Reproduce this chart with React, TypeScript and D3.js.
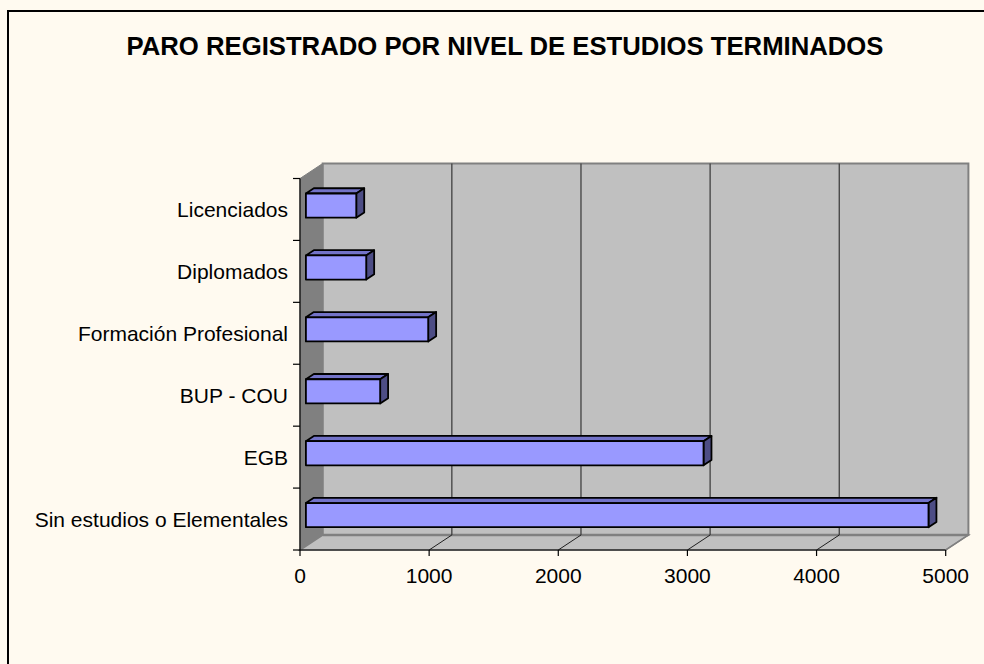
import * as d3 from 'd3'

const categories = [
  'Licenciados',
  'Diplomados',
  'Formación Profesional',
  'BUP - COU',
  'EGB',
  'Sin estudios o Elementales',
]
const values = [390, 467, 947, 575, 3079, 4821]
const xTicks = [0, 1000, 2000, 3000, 4000, 5000]
const title = 'PARO REGISTRADO POR NIVEL DE ESTUDIOS TERMINADOS'

const W = 984
const H = 664
const FONT = '"Liberation Sans", Arial, sans-serif'

// 3D box offsets (depth direction)
const DX = 22.7
const DY = -15
const F0 = 0.26
const F1 = 0.61

const App = () => {
  const x = d3.scaleLinear().domain([0, 5000]).range([300, 945.7])
  const y = d3.scaleBand<string>().domain(categories).range([178.5, 550])
  const bw = y.bandwidth()
  const barH = bw * 0.39
  const x0 = x(0)
  const top = y.range()[0]
  const bottom = y.range()[1]
  const xEnd = x(5000)

  const pts = (p: [number, number][]) => p.map((d) => d.join(',')).join(' ')

  return (
    <div style={{ position: 'absolute', left: 0, top: 0 }}>
      <svg width={W} height={H} style={{ display: 'block' }} fontFamily={FONT}>
        <rect x={0} y={0} width={W} height={H} fill="#fffaf0" />
        <rect x={8} y={11} width={W + 20} height={H + 20} fill="#fffaf0" stroke="#000" strokeWidth={2} />

        <text x={505} y={55} textAnchor="middle" fontSize={25.7} fontWeight="bold" fill="#000">
          {title}
        </text>

        {/* back wall */}
        <rect
          x={x0 + DX}
          y={top + DY}
          width={xEnd - x0}
          height={bottom - top}
          fill="#c0c0c0"
          stroke="#808080"
          strokeWidth={2}
        />
        {/* left wall */}
        <polygon
          points={pts([
            [x0, top],
            [x0 + DX, top + DY],
            [x0 + DX, bottom + DY],
            [x0, bottom],
          ])}
          fill="#808080"
          stroke="#808080"
          strokeWidth={1}
        />
        {/* floor */}
        <polygon
          points={pts([
            [x0, bottom],
            [xEnd, bottom],
            [xEnd + DX, bottom + DY],
            [x0 + DX, bottom + DY],
          ])}
          fill="#c0c0c0"
          stroke="#808080"
          strokeWidth={1.5}
        />
        <line x1={x0 + DX} x2={xEnd + DX} y1={bottom + DY} y2={bottom + DY} stroke="#808080" strokeWidth={2.5} />

        {/* gridlines */}
        {xTicks.slice(1, -1).map((t) => (
          <g key={t}>
            <line x1={x(t) + DX} x2={x(t) + DX} y1={top + DY} y2={bottom + DY} stroke="#404040" strokeWidth={1.3} />
            <line x1={x(t)} x2={x(t) + DX} y1={bottom} y2={bottom + DY} stroke="#202020" strokeWidth={1} />
          </g>
        ))}

        {/* axes */}
        <line x1={x0} x2={x0} y1={top} y2={bottom} stroke="#000" strokeWidth={1.2} />
        <line x1={x0} x2={xEnd} y1={bottom} y2={bottom} stroke="#000" strokeWidth={1.2} />
        <line x1={xEnd} x2={xEnd + DX} y1={bottom} y2={bottom + DY} stroke="#808080" strokeWidth={1.2} />
        {[...categories.map((c) => y(c)!), bottom].map((v, i) => (
          <line key={i} x1={x0 - 7} x2={x0} y1={v} y2={v} stroke="#000" strokeWidth={1.2} />
        ))}
        {xTicks.map((t) => (
          <g key={t}>
            <line x1={x(t)} x2={x(t)} y1={bottom} y2={bottom + 6} stroke="#000" strokeWidth={1.2} />
            <text x={x(t)} y={575} textAnchor="middle" dominantBaseline="central" fontSize={21} fill="#000">
              {t}
            </text>
          </g>
        ))}
        {categories.map((c) => (
          <text
            key={c}
            x={288}
            y={y(c)! + bw / 2}
            textAnchor="end"
            dominantBaseline="central"
            fontSize={21}
            fill="#000"
          >
            {c}
          </text>
        ))}

        {/* bars */}
        {categories.map((c, i) => {
          const yc = y(c)! + bw / 2 + F0 * DY
          const xl = x0 + F0 * DX
          const xr = x(values[i]) + F0 * DX
          const yt = yc - barH / 2
          const yb = yc + barH / 2
          const ddx = (F1 - F0) * DX
          const ddy = (F1 - F0) * DY
          return (
            <g key={c} stroke="#000" strokeWidth={1.8} strokeLinejoin="round">
              <polygon
                points={pts([
                  [xl, yt],
                  [xr, yt],
                  [xr + ddx, yt + ddy],
                  [xl + ddx, yt + ddy],
                ])}
                fill="#7373c8"
              />
              <polygon
                points={pts([
                  [xr, yt],
                  [xr + ddx, yt + ddy],
                  [xr + ddx, yb + ddy],
                  [xr, yb],
                ])}
                fill="#4d4d85"
              />
              <rect x={xl} y={yt} width={xr - xl} height={barH} fill="#9999ff" />
            </g>
          )
        })}
      </svg>
    </div>
  )
}

export default App
